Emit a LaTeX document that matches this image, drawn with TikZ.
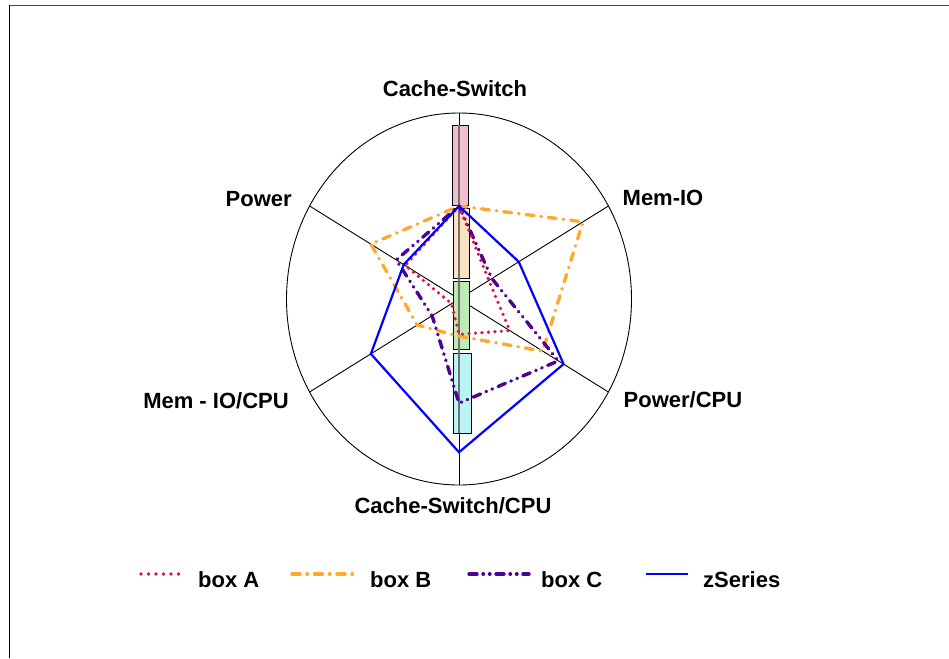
\documentclass[tikz,border=0pt]{standalone}
\usepackage{fontspec}
\setmainfont{Liberation Sans}
\usetikzlibrary{calc}
\definecolor{cA}{RGB}{220,20,60}
\definecolor{cB}{RGB}{255,170,45}
\definecolor{cC}{RGB}{80,0,150}
\definecolor{cZ}{RGB}{0,0,255}
\definecolor{fPink}{RGB}{242,190,205}
\definecolor{fOrange}{RGB}{250,226,192}
\definecolor{fGreen}{RGB}{190,235,180}
\definecolor{fCyan}{RGB}{185,245,245}
\tikzset{
  lab/.style={font=\fontsize{22}{26}\selectfont\bfseries, inner sep=0pt, anchor=base},
  spoke/.style={black, line width=0.9pt},
  barbox/.style={draw=black, line width=0.9pt},
  serA/.style={cA, line width=3.6pt, line cap=round, dash pattern=on 0pt off 6.5pt},
  serB/.style={cB, line width=3.4pt, line cap=round, dash pattern=on 8pt off 7pt on 0.5pt off 7pt},
  serC/.style={cC, line width=3.4pt, line cap=round, dash pattern=on 8pt off 6pt on 0.5pt off 6pt on 0.5pt off 6pt},
  serZ/.style={cZ, line width=2.2pt, line join=miter},
}
\begin{document}
\begin{tikzpicture}[x=1pt,y=-1pt]
\useasboundingbox (0,0) rectangle (949,658);
% frame
\draw[black!70, line width=1.2pt] (949,5.3) -- (9.3,5.3);
\draw[black, line width=1.2pt] (9.3,5.3) -- (9.3,658);
% circle (ellipse) and spokes
\coordinate (O) at (459,299);
\draw[spoke] (O) ellipse [x radius=172.5, y radius=186];
\foreach \a/\n in {90/s1,30/s2,-30/s3,-90/s4,210/s5,150/s6}{
  \pgfmathsetmacro\px{459+172.5*cos(\a)}
  \pgfmathsetmacro\py{299-186*sin(\a)}
  \coordinate (\n) at (\px,\py);
}
\draw[spoke] (s2) -- (s5);
\draw[spoke] (s3) -- (s6);
\draw[spoke] (s1) -- (s4);
% bars
\draw[barbox, fill=fPink] (452,125) rectangle (468,205);
\draw[barbox, fill=fOrange] (453,208) rectangle (469,278);
\draw[barbox, fill=fGreen] (453,281) rectangle (469,349);
\draw[barbox, fill=fCyan] (453,353) rectangle (471,433);
\draw[black!55, line width=1.2pt] (459,125) -- (459,433);
% data points
\foreach \s/\v in {z/{0.5,0.40,0.70,0.824,0.59,0.37},
                   a/{0.5,0.20,0.34,0.19,0.05,0.36},
                   b/{0.5,0.83,0.56,0.20,0.28,0.59},
                   c/{0.5,0.22,0.665,0.56,0.18,0.42}}{
  \foreach \f [count=\i] in \v {
    \pgfmathsetmacro\px{459+172.5*\f*cos(90-60*(\i-1))}
    \pgfmathsetmacro\py{299-186*\f*sin(90-60*(\i-1))}
    \coordinate (\s\i) at (\px,\py);
  }
}
\draw[serB] (b1) -- (b2) -- (b3) -- (b4) -- (b5) -- (b6) -- cycle;
\draw[serC] (c1) -- (c2) -- (c3) -- (c4) -- (c5) -- (c6) -- cycle;
\draw[serA] (a1) -- (a2) -- (a3) -- (a4) -- (a5) -- (a6) -- cycle;
\draw[serZ] (z1) -- (z2) -- (z3) -- (z4) -- (z5) -- (z6) -- cycle;
% axis labels
\node[lab] (l1) at (455,96.7) {Cache-Switch};
\node[lab] (l2) at (663,205.5) {Mem-IO};
\node[lab] (l3) at (683,407.5) {Power/CPU};
\node[lab] (l4) at (453,513) {Cache-Switch/CPU};
\node[lab] (l5) at (216,408) {Mem - IO/CPU};
\node[lab] (l6) at (258.7,206) {Power};
% legend
\coordinate (la1) at (141,574); \coordinate (la2) at (180,574);
\coordinate (lb1) at (292,574); \coordinate (lb2) at (354,574);
\coordinate (lc1) at (469,574); \coordinate (lc2) at (529,574);
\coordinate (lz1) at (646,574); \coordinate (lz2) at (688,574);
\draw[serA, dash pattern=on 0pt off 7.5pt] (la1) -- (la2);
\draw[serB] (lb1) -- (lb2);
\draw[serC] (lc1) -- (lc2);
\draw[serZ] (lz1) -- (lz2);
\node[lab, anchor=base west] (ta) at (198,587) {box A};
\node[lab, anchor=base west] (tb) at (370,587) {box B};
\node[lab, anchor=base west] (tc) at (541,587) {box C};
\node[lab, anchor=base west] (tz) at (703,587) {zSeries};
\end{tikzpicture}
\end{document}
